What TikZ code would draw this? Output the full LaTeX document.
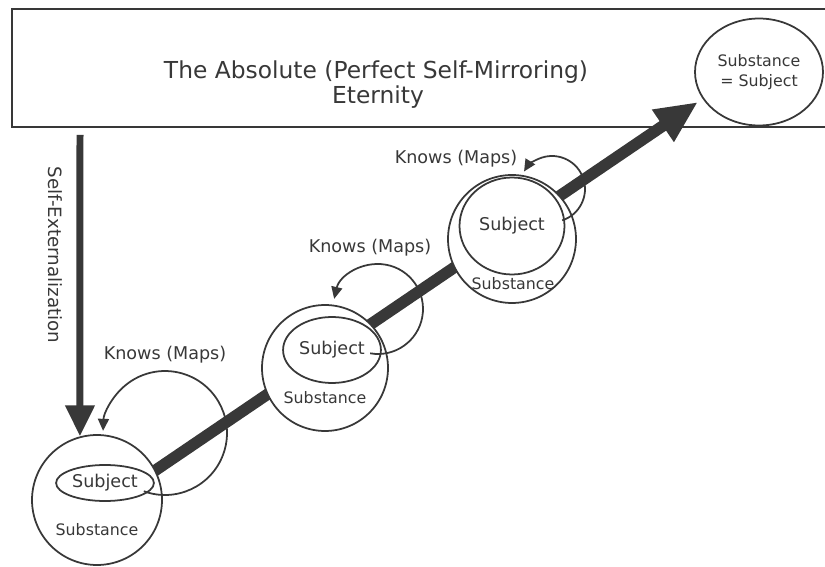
\documentclass[tikz,border=0pt]{standalone}
\usepackage{fontspec}
\setmainfont{DejaVu Sans}
\usetikzlibrary{arrows.meta,shapes.geometric}

\colorlet{ink}{black!78}
\tikzset{
  sketch/.style={line width=1pt, draw=ink},
  substance/.style={circle, sketch, fill=white, inner sep=0pt, minimum size=#1},
  subject/.style={ellipse, sketch, fill=white, inner sep=0pt, minimum width=#1},
  label/.style={font=\fontsize{10}{11}\selectfont, text=ink, inner sep=1pt},
  small label/.style={font=\fontsize{9}{11}\selectfont, text=ink, inner sep=1pt},
  heading/.style={font=\fontsize{13.3}{15}\selectfont, text=ink, inner sep=1pt},
  knows/.style={line width=1pt, draw=ink, -{Triangle[length=2.4mm,width=2.2mm]}},
  growth/.style={line width=0.23cm, draw=ink, -{Triangle[length=0.85cm,width=0.72cm]}},
  externalize/.style={line width=0.14cm, draw=ink, -{Triangle[length=0.62cm,width=0.56cm]}}
}

\begin{document}
\begin{tikzpicture}[x=0.02cm, y=-0.02cm]
\useasboundingbox (0,0) rectangle (825,567);

% the absolute
\node[sketch, rectangle, minimum width=16.4cm, minimum height=2.36cm] (absolute) at (422,68) {};
\node[heading] (title) at (376,72) {The Absolute (Perfect Self-Mirroring)};
\node[heading] (eternity) at (378,97) {Eternity};
\node[sketch, ellipse, fill=white, inner sep=0pt, minimum width=2.56cm, minimum height=2.14cm,
      align=center, small label] (unity) at (759,72) {Substance\\= Subject};

% stages
\coordinate (goal) at (698,102);
\coordinate (launch) at (150,474);
\draw[growth] (launch) -- (goal);

\node[substance=2.6cm] (sub1) at (97,500) {};
\node[subject=1.72cm, minimum height=0.72cm, label] (subj1) at (105,483) {Subject};
\node[small label] (sublabel1) at (97,530) {Substance};

\node[substance=2.52cm] (sub2) at (325,368) {};
\node[subject=1.8cm, minimum height=1.32cm, label] (subj2) at (332,350) {Subject};
\node[small label] (sublabel2) at (325,398) {Substance};

\node[substance=2.56cm] (sub3) at (512,239) {};
\node[subject=2.1cm, minimum height=1.94cm, label] (subj3) at (512,226) {Subject};
\node[small label] (sublabel3) at (513,284) {Substance};

% knowing loops
\coordinate (loop1) at (165,433);
\coordinate (loop2) at (378,309);
\coordinate (loop3) at (552,189);
\draw[knows] (loop1) ++(-110:1.24cm) arc[start angle=-110, end angle=178, radius=1.24cm];
\draw[knows] (loop2) ++(-100:0.9cm) arc[start angle=-100, end angle=167, radius=0.9cm];
\draw[knows] (loop3) ++(-72:0.66cm) arc[start angle=-72, end angle=148, radius=0.66cm];
\node[label] (knows1) at (165,355) {Knows (Maps)};
\node[label] (knows2) at (370,248) {Knows (Maps)};
\node[label] (knows3) at (456,159) {Knows (Maps)};

% self-externalization
\coordinate (extstart) at (80,135);
\draw[externalize] (extstart) -- (sub1.105);
\node[label, font=\fontsize{10.4}{12}\selectfont, rotate=-90] (extlabel) at (55,255) {Self-Externalization};
\end{tikzpicture}
\end{document}
